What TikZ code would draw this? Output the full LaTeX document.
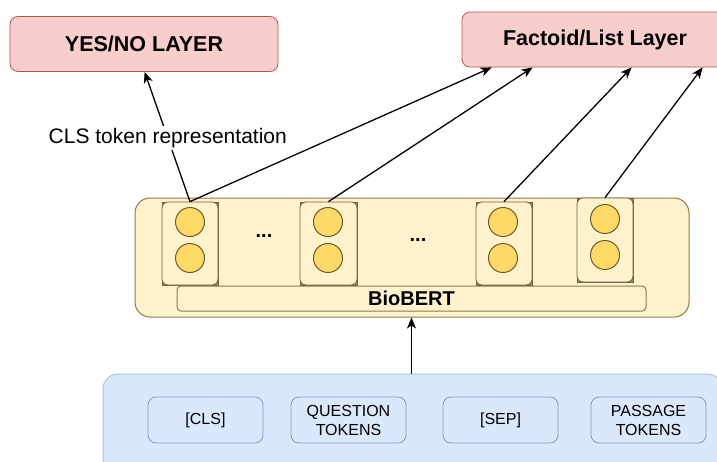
\documentclass[tikz,border=0pt]{standalone}
\usepackage{fontspec}
\setmainfont{Liberation Sans}
\usetikzlibrary{arrows.meta,calc}
\definecolor{redfill}{HTML}{F8CECC}
\definecolor{redline}{HTML}{B85450}
\definecolor{yelfill}{HTML}{FFF2CC}
\definecolor{yelline}{HTML}{8C7B4B}
\definecolor{cellline}{HTML}{6E6140}
\definecolor{circfill}{HTML}{FFD966}
\definecolor{circline}{HTML}{6B5A2E}
\definecolor{bluefill}{HTML}{DAE8FC}
\definecolor{blueouter}{HTML}{A9C4EB}
\definecolor{blueline}{HTML}{7C9CCB}
\tikzset{
  redbox/.style={draw=redline, fill=redfill, line width=0.8pt, rounded corners=8pt,
    font=\fontsize{21.5}{24}\selectfont\bfseries, inner sep=0pt},
  outerbox/.style={draw=yelline, fill=yelfill, line width=1pt, rounded corners=15pt, inner sep=0pt},
  barbox/.style={draw=yelline, fill=yelfill, line width=1pt, rounded corners=4pt,
    font=\fontsize{20}{22}\selectfont\bfseries, inner sep=0pt},
  cellback/.style={draw=cellline, fill=cellline!70!yelfill, line width=0.8pt, inner sep=0pt},
  cellbox/.style={draw=cellline, fill=yelfill, line width=0.8pt, rounded corners=6pt, inner sep=0pt},
  circ/.style={circle, draw=circline, fill=circfill, line width=1pt, minimum size=29pt, inner sep=0pt},
  dotstext/.style={font=\fontsize{20}{22}\selectfont\bfseries, inner sep=0pt},
  inputbox/.style={draw=blueouter, fill=bluefill, line width=1pt, rounded corners=15pt, inner sep=0pt},
  tokbox/.style={draw=blueline, fill=bluefill, line width=0.8pt, rounded corners=8pt,
    minimum width=115pt, minimum height=46pt, inner sep=0pt, align=center,
    font=\fontsize{16}{19}\selectfont},
  arr/.style={-{Stealth[length=11pt,width=9pt,inset=3pt]}, line width=1.3pt, black},
  lbl/.style={font=\fontsize{21}{24}\selectfont, fill=white, inner sep=2pt}
}
\begin{document}
\begin{tikzpicture}[x=1pt,y=-1pt]
\useasboundingbox (0,0) rectangle (717,461);
% top layers
\node[redbox, minimum width=268pt, minimum height=55pt] (yesno) at (144,44) {YES/NO LAYER};
\node[redbox, minimum width=266pt, minimum height=55pt] (factoid) at (595,39.5) {Factoid/List Layer};
% BioBERT
\node[outerbox, minimum width=554pt, minimum height=119pt] (bio) at (412,257.5) {};
\node[cellback, minimum width=56pt, minimum height=83pt] at (190,243.5) {};
\node[cellbox, minimum width=56pt, minimum height=83pt] (c1) at (190,243.5) {};
\node[cellback, minimum width=57pt, minimum height=83pt] at (328.5,243.5) {};
\node[cellbox, minimum width=57pt, minimum height=83pt] (c2) at (328.5,243.5) {};
\node[cellback, minimum width=56pt, minimum height=83pt] at (504,243.5) {};
\node[cellbox, minimum width=56pt, minimum height=83pt] (c3) at (504,243.5) {};
\node[cellback, minimum width=56pt, minimum height=84pt] at (605,240) {};
\node[cellbox, minimum width=56pt, minimum height=84pt] (c4) at (605,240) {};
\node[circ] (c1a) at (190,222) {};
\node[circ] (c1b) at (190,258) {};
\node[circ] (c2a) at (328,222) {};
\node[circ] (c2b) at (328,258) {};
\node[circ] (c3a) at (503,222) {};
\node[circ] (c3b) at (503,258) {};
\node[circ] (c4a) at (605,219) {};
\node[circ] (c4b) at (605,255) {};
\node[dotstext] (d1) at (264,236) {...};
\node[dotstext] (d2) at (418,240) {...};
\node[barbox, minimum width=469pt, minimum height=25pt] (bar) at (411.5,298.5) {BioBERT};
% input
\node[inputbox, minimum width=619pt, minimum height=100pt] (input) at (412.5,424) {};
\node[tokbox] (cls) at (205.5,420) {[CLS]};
\node[tokbox] (qt) at (348.5,420) {QUESTION\\TOKENS};
\node[tokbox] (sep) at (500.5,420) {[SEP]};
\node[tokbox] (pt) at (648.5,420) {PASSAGE\\TOKENS};
% connectors
\draw[arr] (c1.north) -- node[lbl, pos=0.49] (clslbl) {CLS token representation} ($(yesno.south west)+(135,0)$);
\draw[arr] (c1.north) -- ($(factoid.south west)+(30,0)$);
\draw[arr] (c2.north) -- ($(factoid.south west)+(71,0)$);
\draw[arr] (c3.north) -- ($(factoid.south west)+(170,0)$);
\draw[arr] (c4.north) -- ($(factoid.south west)+(241,0)$);
\draw[arr] (input.north -| bar.south) -- (bio.south -| bar.south);
\end{tikzpicture}
\end{document}
